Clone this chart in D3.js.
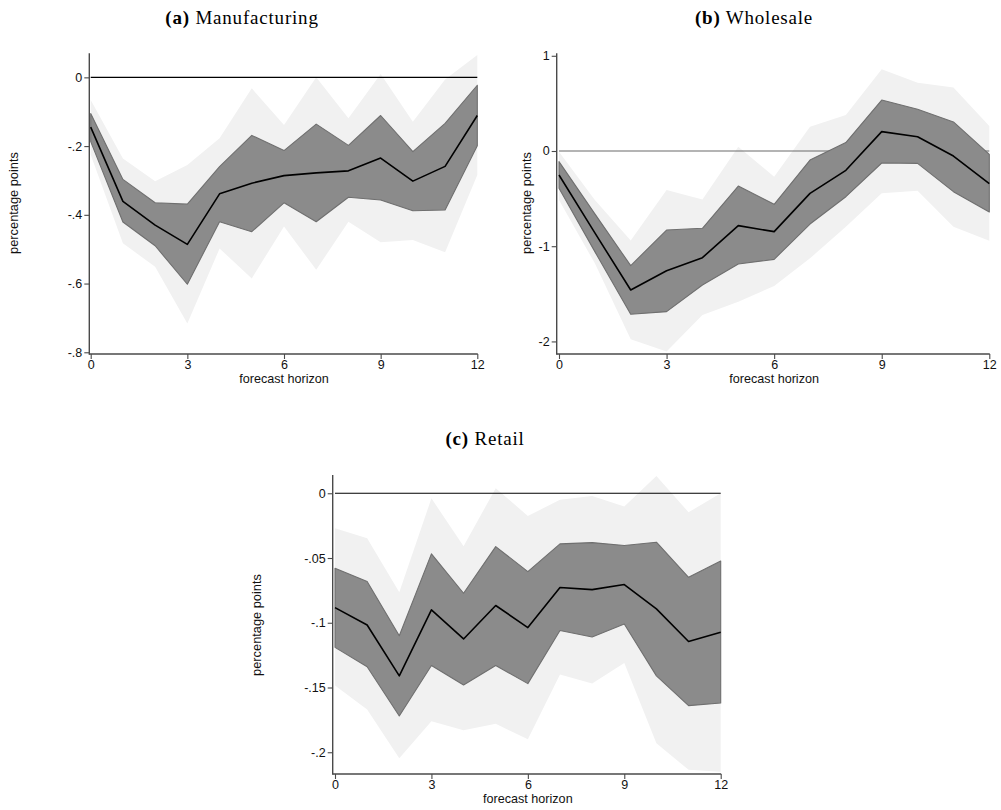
<!DOCTYPE html>
<html>
<head>
<meta charset="utf-8">
<script src="https://cdn.jsdelivr.net/npm/d3@7"></script>
<style>
  html, body { margin: 0; padding: 0; background: #fff; }
  svg { display: block; }
</style>
</head>
<body>
<svg id="chart" width="1001" height="810"></svg>
<script>
// Forecast horizons (months)
const horizons = [0, 1, 2, 3, 4, 5, 6, 7, 8, 9, 10, 11, 12];
const xTickValues = [0, 3, 6, 9, 12];

// (a) Manufacturing: point estimate, 68% band, 90% band
const manufEst  = [-0.145, -0.361, -0.430, -0.486, -0.339, -0.308, -0.286, -0.278, -0.272, -0.235, -0.302, -0.259, -0.111];
const manufHi68 = [-0.105, -0.297, -0.365, -0.369, -0.260, -0.169, -0.213, -0.136, -0.198, -0.111, -0.216, -0.134, -0.023];
const manufLo68 = [-0.187, -0.421, -0.490, -0.602, -0.420, -0.449, -0.365, -0.420, -0.349, -0.357, -0.388, -0.386, -0.199];
const manufHi90 = [-0.066, -0.236, -0.302, -0.255, -0.177, -0.032, -0.139,  0.000, -0.119,  0.010, -0.129, -0.006,  0.065];
const manufLo90 = [-0.225, -0.483, -0.551, -0.716, -0.498, -0.585, -0.434, -0.560, -0.420, -0.480, -0.473, -0.509, -0.284];
const manufTicks = [0, -0.2, -0.4, -0.6, -0.8];
const manufTickLabels = ["0", "-.2", "-.4", "-.6", "-.8"];

// (b) Wholesale
const wholeEst  = [-0.252, -0.860, -1.460, -1.257, -1.120, -0.784, -0.847, -0.445, -0.203, 0.203, 0.150, -0.053, -0.343];
const wholeHi68 = [-0.112, -0.660, -1.204, -0.830, -0.812, -0.368, -0.560, -0.095, 0.088, 0.535, 0.438, 0.305, -0.035];
const wholeLo68 = [-0.392, -1.057, -1.715, -1.687, -1.407, -1.187, -1.138, -0.767, -0.480, -0.126, -0.130, -0.427, -0.640];
const wholeHi90 = [-0.007, -0.515, -0.940, -0.410, -0.510, 0.045, -0.270, 0.255, 0.378, 0.858, 0.718, 0.668, 0.262];
const wholeLo90 = [-0.515, -1.180, -1.978, -2.107, -1.722, -1.582, -1.418, -1.127, -0.795, -0.445, -0.417, -0.795, -0.942];
const wholeTicks = [1, 0, -1, -2];
const wholeTickLabels = ["1", "0", "-1", "-2"];

// (c) Retail
const retailEst  = [-0.0883, -0.1017, -0.1410, -0.0900, -0.1125, -0.0867, -0.1037, -0.0728, -0.0744, -0.0705, -0.0893, -0.1145, -0.1073];
const retailHi68 = [-0.0579, -0.0682, -0.1100, -0.0468, -0.0772, -0.0412, -0.0605, -0.0391, -0.0381, -0.0404, -0.0378, -0.0649, -0.0523];
const retailLo68 = [-0.1190, -0.1340, -0.1720, -0.1330, -0.1480, -0.1330, -0.1470, -0.1060, -0.1110, -0.1010, -0.1410, -0.1640, -0.1620];
const retailHi90 = [-0.0270, -0.0347, -0.0764, -0.0039, -0.0410, 0.0039, -0.0175, -0.0051, -0.0021, -0.0103, 0.0134, -0.0147, 0.0000];
const retailLo90 = [-0.1485, -0.1670, -0.2046, -0.1760, -0.1830, -0.1780, -0.1900, -0.1400, -0.1470, -0.1310, -0.1930, -0.2136, -0.2150];
const retailTicks = [0, -0.05, -0.1, -0.15, -0.2];
const retailTickLabels = ["0", "-.05", "-.1", "-.15", "-.2"];

const svg = d3.select("#chart");

const panels = [
  {
    tag: "(a)", name: "Manufacturing",
    est: manufEst, hi68: manufHi68, lo68: manufLo68, hi90: manufHi90, lo90: manufLo90,
    ticks: manufTicks, tickLabels: manufTickLabels,
    x0: 90.7, x1: 477.3, yTop: 53.3, yBot: 354,
    yDomain: [0.07, -0.805], axisX: 89.3,
    titleX: 242, titleY: 24, yLabelX: 14, yLabelY: 203,
    zeroColor: "#000"
  },
  {
    tag: "(b)", name: "Wholesale",
    est: wholeEst, hi68: wholeHi68, lo68: wholeLo68, hi90: wholeHi90, lo90: wholeLo90,
    ticks: wholeTicks, tickLabels: wholeTickLabels,
    x0: 559, x1: 989.3, yTop: 53.3, yBot: 354,
    yDomain: [1.026, -2.132], axisX: 556.7,
    titleX: 754, titleY: 24, yLabelX: 527, yLabelY: 203,
    zeroColor: "#6a6a6a"
  },
  {
    tag: "(c)", name: "Retail",
    est: retailEst, hi68: retailHi68, lo68: retailLo68, hi90: retailHi90, lo90: retailLo90,
    ticks: retailTicks, tickLabels: retailTickLabels,
    x0: 335, x1: 720.7, yTop: 475, yBot: 774,
    yDomain: [0.0141, -0.2168], axisX: 332.7,
    titleX: 485, titleY: 445, yLabelX: 257, yLabelY: 625,
    zeroColor: "#000"
  }
];

function drawPanel(p) {
  const g = svg.append("g");
  const x = d3.scaleLinear().domain([0, 12]).range([p.x0, p.x1]);
  const y = d3.scaleLinear().domain(p.yDomain).range([p.yTop, p.yBot]);

  const rows = horizons.map((h, i) => ({
    h, est: p.est[i], hi68: p.hi68[i], lo68: p.lo68[i], hi90: p.hi90[i], lo90: p.lo90[i]
  }));

  // 90% band
  g.append("path")
    .datum(rows)
    .attr("fill", "#f1f1f1")
    .attr("d", d3.area().x(d => x(d.h)).y0(d => y(d.lo90)).y1(d => y(d.hi90)));

  // zero reference line
  g.append("line")
    .attr("x1", x(0)).attr("x2", x(12))
    .attr("y1", y(0)).attr("y2", y(0))
    .attr("stroke", p.zeroColor).attr("stroke-width", 1.2);

  // 68% band
  g.append("path")
    .datum(rows)
    .attr("fill", "#8b8b8b")
    .attr("stroke", "#6f6f6f")
    .attr("stroke-width", 1.1)
    .attr("stroke-linejoin", "round")
    .attr("d", d3.area().x(d => x(d.h)).y0(d => y(d.lo68)).y1(d => y(d.hi68)));

  // point estimate
  g.append("path")
    .datum(rows)
    .attr("fill", "none")
    .attr("stroke", "#000")
    .attr("stroke-width", 1.6)
    .attr("stroke-linejoin", "round")
    .attr("d", d3.line().x(d => x(d.h)).y(d => y(d.est)));

  // y axis
  const yAxis = d3.axisLeft(y)
    .tickValues(p.ticks)
    .tickFormat((d, i) => p.tickLabels[i])
    .tickSize(5).tickSizeOuter(0).tickPadding(2);
  const ya = g.append("g")
    .attr("transform", `translate(${p.axisX},0)`)
    .call(yAxis);
  ya.select(".domain").attr("d", `M0,${p.yTop}V${p.yBot + 0.7}`);

  // x axis
  const xAxis = d3.axisBottom(x)
    .tickValues(xTickValues)
    .tickSize(5).tickSizeOuter(0).tickPadding(1);
  const xa = g.append("g")
    .attr("transform", `translate(0,${p.yBot})`)
    .call(xAxis);
  xa.select(".domain").attr("d", `M${p.axisX},0H${p.x1 + 0.5}`);

  [ya, xa].forEach(a => {
    a.select(".domain").attr("stroke", "#4a4a4a").attr("stroke-width", 1.4);
    a.selectAll(".tick line").attr("stroke", "#4a4a4a").attr("stroke-width", 1.1);
    a.selectAll(".tick text")
      .attr("fill", "#111")
      .style("font-family", "'Liberation Sans', Arial, sans-serif")
      .style("font-size", "12.5px");
  });

  // axis titles
  g.append("text")
    .attr("x", (p.x0 + p.x1) / 2)
    .attr("y", p.yBot + 29)
    .attr("text-anchor", "middle")
    .style("font-family", "'Liberation Sans', Arial, sans-serif")
    .style("font-size", "12.6px")
    .attr("fill", "#111")
    .text("forecast horizon");

  g.append("text")
    .attr("transform", `translate(${p.yLabelX},${p.yLabelY}) rotate(-90)`)
    .attr("text-anchor", "middle")
    .attr("dy", "0.35em")
    .style("font-family", "'Liberation Sans', Arial, sans-serif")
    .style("font-size", "12.8px")
    .attr("fill", "#111")
    .text("percentage points");

  // panel title
  const t = g.append("text")
    .attr("x", p.titleX)
    .attr("y", p.titleY)
    .attr("text-anchor", "middle")
    .style("font-family", "'Liberation Serif', 'DejaVu Serif', serif")
    .style("font-size", "19px")
    .style("letter-spacing", "0.8px")
    .attr("fill", "#000");
  t.append("tspan").attr("font-weight", "bold").text(p.tag);
  t.append("tspan").text(" " + p.name);
}

panels.forEach(drawPanel);
</script>
</body>
</html>
